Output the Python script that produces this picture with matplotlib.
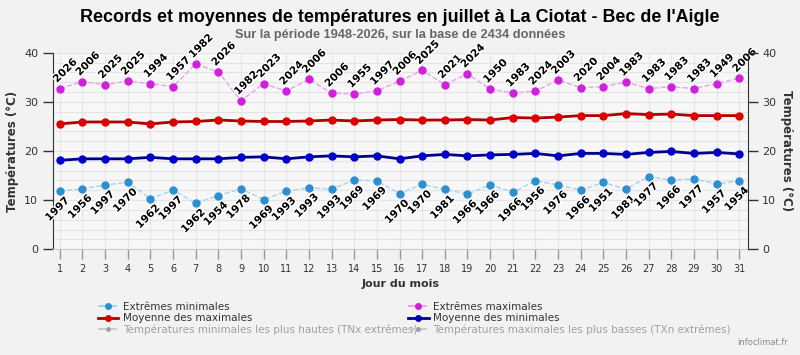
import numpy as np
import matplotlib.pyplot as plt
import matplotlib.patheffects as pe
from matplotlib.lines import Line2D

# données
jours = np.arange(1, 32)

ext_max = [32.7, 34.1, 33.5, 34.2, 33.7, 33.1, 37.7, 36.1, 30.2, 33.7, 32.2,
           34.6, 31.8, 31.6, 32.2, 34.2, 36.4, 33.5, 35.7, 32.6, 31.8, 32.2,
           34.4, 32.9, 33.1, 34.0, 32.7, 33.1, 32.7, 33.7, 34.8]
annees_max = ['2026', '2006', '2025', '2025', '1994', '1957', '1982', '2026',
              '1982', '2023', '2024', '2006', '2006', '1955', '1997', '2006',
              '2025', '2021', '2024', '1950', '1983', '2024', '2003', '2020',
              '2004', '1983', '1983', '1983', '1983', '1949', '2006']

moy_max = [25.5, 25.9, 25.9, 25.9, 25.5, 25.9, 26.0, 26.3, 26.1, 26.0, 26.0,
           26.1, 26.3, 26.1, 26.3, 26.4, 26.3, 26.3, 26.4, 26.3, 26.8, 26.7,
           26.9, 27.2, 27.2, 27.6, 27.4, 27.5, 27.2, 27.2, 27.2]

moy_min = [18.1, 18.4, 18.4, 18.4, 18.7, 18.4, 18.4, 18.4, 18.7, 18.8, 18.4,
           18.8, 19.0, 18.8, 19.0, 18.4, 19.0, 19.3, 19.0, 19.2, 19.3, 19.5,
           19.0, 19.5, 19.5, 19.3, 19.7, 19.9, 19.5, 19.7, 19.4]

ext_min = [11.8, 12.3, 13.1, 13.6, 10.3, 12.0, 9.4, 10.9, 12.3, 10.1, 11.8,
           12.5, 12.2, 14.1, 13.9, 11.3, 13.2, 12.2, 11.2, 13.1, 11.6, 13.9,
           13.1, 12.0, 13.6, 12.2, 14.8, 14.1, 14.3, 13.3, 13.9]
annees_min = ['1997', '1956', '1997', '1970', '1962', '1997', '1962', '1954',
              '1978', '1969', '1993', '1993', '1993', '1969', '1969', '1970',
              '1970', '1981', '1966', '1966', '1966', '1956', '1976', '1966',
              '1951', '1981', '1977', '1966', '1977', '1957', '1954']

fig = plt.figure(figsize=(8, 3.55), dpi=100, facecolor='#f2f2f2')
ax = fig.add_axes([0.066, 0.298, 0.8685, 0.5535])
ax.set_facecolor('#f7f7f7')

# séries
ax.plot(jours, ext_max, '--', color='#e6a3ee', lw=1, zorder=3)
ax.plot(jours, ext_max, 'o', color='#d020dc', ms=5, zorder=4)
ax.plot(jours, moy_max, '-', color='#b00000', lw=2, zorder=3)
ax.plot(jours, moy_max, 'o', color='#dd0000', ms=5, zorder=4)
ax.plot(jours, moy_min, '-', color='#00008b', lw=2, zorder=3)
ax.plot(jours, moy_min, 'o', color='#0000cc', ms=5, zorder=4)
ax.plot(jours, ext_min, '--', color='#a8d2ec', lw=1, zorder=3)
ax.plot(jours, ext_min, 'o', color='#2b8fd2', ms=5, zorder=4)

# étiquettes des années
contour = [pe.withStroke(linewidth=2, foreground='white')]
for j, v, a in zip(jours, ext_max, annees_max):
    ax.annotate(a, (j, v), xytext=(-1, 3), textcoords='offset points',
                rotation=45, rotation_mode='anchor', ha='left', va='bottom',
                fontsize=7.5, fontweight='bold', color='black',
                path_effects=contour, zorder=5)
for j, v, a in zip(jours, ext_min, annees_min):
    ax.annotate(a, (j, v), xytext=(3, -3), textcoords='offset points',
                rotation=45, rotation_mode='anchor', ha='right', va='top',
                fontsize=7.5, fontweight='bold', color='black',
                path_effects=contour, zorder=5)

# axes
ax.set_xlim(0.69, 31.37)
ax.set_ylim(0, 40)
ax.set_xticks(jours)
ax.set_yticks([0, 10, 20, 30, 40])
ax.set_yticks(np.arange(0, 41, 2), minor=True)
ax.grid(True, which='both', color='#e4e4e4', lw=0.8, zorder=0)
ax.tick_params(axis='y', which='major', length=7, width=1, color='#333333',
               labelsize=8, labelcolor='#333333')
ax.tick_params(axis='y', which='minor', length=0)
ax.tick_params(axis='x', length=7, width=1, color='#999999', labelsize=7,
               labelcolor='#333333')
for s in ['top', 'right']:
    ax.spines[s].set_visible(False)
ax.spines['left'].set_color('#333333')
ax.spines['bottom'].set_color('#cccccc')
ax.set_xlabel('Jour du mois', fontsize=8, fontweight='bold', color='#333333')
ax.set_ylabel('Températures (°C)', fontsize=8.5, fontweight='bold', color='#333333')

ax2 = ax.twinx()
ax2.set_ylim(0, 40)
ax2.set_yticks([0, 10, 20, 30, 40])
ax2.tick_params(axis='y', length=7, width=1, color='#333333', labelsize=8,
                labelcolor='#333333')
for s in ['top', 'left', 'bottom']:
    ax2.spines[s].set_visible(False)
ax2.spines['right'].set_color('#333333')
ax2.set_ylabel('Températures (°C)', fontsize=8.5, fontweight='bold',
               color='#333333', rotation=270, labelpad=12)

# titres
fig.text(0.5, 0.952, "Records et moyennes de températures en juillet à La Ciotat - Bec de l'Aigle",
         ha='center', va='center', fontsize=12.9, fontweight='bold',
         family=['Liberation Sans', 'DejaVu Sans'], color='black')
fig.text(0.5, 0.902, "Sur la période 1948-2026, sur la base de 2434 données",
         ha='center', va='center', fontsize=9.2, fontweight='bold',
         family=['Liberation Sans', 'DejaVu Sans'], color='#666666')

# légende (deux colonnes qui se chevauchent)
gris = '#a0a0a0'
h1 = [Line2D([], [], ls='--', color='#a8d2ec', marker='o', mfc='#2b8fd2', mec='#2b8fd2', ms=4),
      Line2D([], [], ls='-', color='#b00000', lw=2, marker='o', mfc='#dd0000', mec='#dd0000', ms=4),
      Line2D([], [], ls='--', color='#cccccc', marker='o', mfc=gris, mec=gris, ms=2.5)]
l1 = ['Extrêmes minimales', 'Moyenne des maximales',
      'Températures minimales les plus hautes (TNx extrêmes)']
h2 = [Line2D([], [], ls='--', color='#e6a3ee', marker='o', mfc='#d020dc', mec='#d020dc', ms=4),
      Line2D([], [], ls='-', color='#00008b', lw=2, marker='o', mfc='#0000cc', mec='#0000cc', ms=4),
      Line2D([], [], ls='--', color='#cccccc', marker='o', mfc=gris, mec=gris, ms=2.5)]
l2 = ['Extrêmes maximales', 'Moyenne des minimales',
      'Températures maximales les plus basses (TXn extrêmes)']
for hs, ls_, x0 in [(h1, l1, 0.122), (h2, l2, 0.51)]:
    leg = fig.legend(hs, ls_, loc='upper left', bbox_to_anchor=(x0, 0.149),
                     frameon=False, fontsize=7.5, handlelength=2.0,
                     handletextpad=0.4, labelspacing=0.12, borderaxespad=0,
                     borderpad=0)
    for t in leg.get_texts()[:2]:
        t.set_color('#333333')
    leg.get_texts()[2].set_color(gris)

fig.text(0.985, 0.035, 'infoclimat.fr', ha='right', va='center', fontsize=6,
         color='#888888')

fig.savefig('out.png', dpi=100, facecolor=fig.get_facecolor())
